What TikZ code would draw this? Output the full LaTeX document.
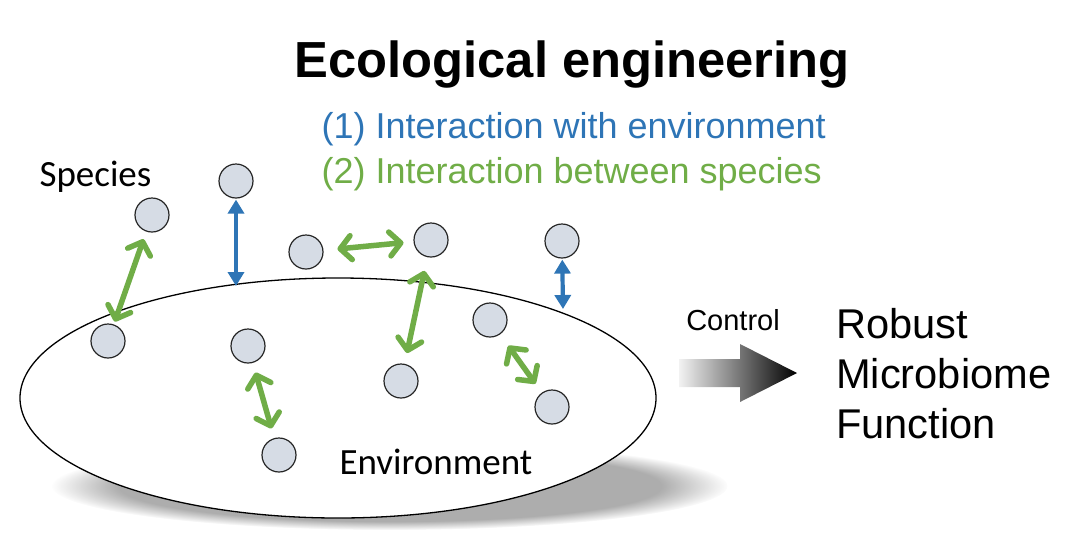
\documentclass[tikz,border=0pt]{standalone}
\usepackage{fontspec}
\setmainfont{Liberation Sans}
\newfontfamily\calfont{Carlito}
\usetikzlibrary{arrows.meta,fadings,shapes.geometric}

\definecolor{envblue}{RGB}{46,117,182}
\definecolor{spgreen}{RGB}{112,173,71}
\definecolor{cellfill}{RGB}{214,220,229}

\tikzset{
    species/.style={circle, draw=black!85, fill=cellfill, line width=1.2pt, minimum size=34pt, inner sep=0pt},
    inter/.style={spgreen, line width=5.5pt, {Straight Barb[round, length=11pt, width=24pt]}-{Straight Barb[round, length=11pt, width=24pt]}},
    envlink/.style={envblue, line width=4.2pt, {Triangle[length=14pt, width=16pt]}-{Triangle[length=14pt, width=16pt]}}
}

\begin{document}
\begin{tikzpicture}[x=1pt, y=-1pt]
        \useasboundingbox (0, 0) rectangle (1082, 542);
        % shadow and environment
        \fill[black!32, path fading=circle with fuzzy edge 20 percent] (390, 486) ellipse (338 and 44);
        \node[ellipse, draw, fill=white, line width=1.3pt, minimum width=636pt, minimum height=240pt] (env) at (338, 398) {};
        \node[font=\calfont\fontsize{37}{44}\selectfont, anchor=base west] (envlabel) at (336, 474) {Environment};
        \coordinate (rim1) at (236, 286);
        \coordinate (rim2) at (563, 309);

        % species
        \node[species] (s1) at (152, 215) {};
        \node[species] (s2) at (236, 181) {};
        \node[species] (s3) at (306, 252) {};
        \node[species] (s4) at (431, 240) {};
        \node[species] (s5) at (562, 241) {};
        \node[species] (s6) at (108, 341) {};
        \node[species] (s7) at (248, 346) {};
        \node[species] (s8) at (490, 320) {};
        \node[species] (s9) at (401, 381) {};
        \node[species] (s10) at (552, 407) {};
        \node[species] (s11) at (279, 455) {};
        \node[font=\calfont\fontsize{37}{44}\selectfont, anchor=base west] (splabel) at (36, 186) {Species};

        % interactions
        \draw[envlink, shorten <=1pt] (s2) -- (rim1);
        \draw[envlink, shorten <=1pt] (s5) -- (rim2);
        \draw[inter, shorten <=8pt, shorten >=3pt] (s1) -- (s6);
        \draw[inter, shorten <=14pt, shorten >=10pt] (s3) -- (s4);
        \draw[inter, shorten <=14pt, shorten >=11pt] (s4) -- (s9);
        \draw[inter, shorten <=14pt, shorten >=11pt] (s8) -- (s10);
        \draw[inter, shorten <=10pt, shorten >=10pt] (s7) -- (s11);

        % titles
        \node[font=\bfseries\fontsize{50.7}{60}\selectfont, anchor=base] (title) at (572, 77) {Ecological engineering};
        \node[font=\fontsize{36}{43}\selectfont, text=envblue, anchor=base west] (key1) at (318, 138) {(1) Interaction with environment};
        \node[font=\fontsize{36}{43}\selectfont, text=spgreen, anchor=base west] (key2) at (318, 183) {(2) Interaction between species};

        % control arrow and outcome
        \shade[left color=black!5, right color=black] (679, 359) -- (740, 359) -- (740, 344) -- (797, 373) -- (740, 402) -- (740, 387) -- (679, 387) -- cycle;
        \node[font=\fontsize{29}{35}\selectfont, anchor=base] (ctrl) at (733, 330) {Control};
        \node[font=\fontsize{41.6}{50}\selectfont, align=left, anchor=base west, inner sep=0pt] (outcome) at (836, 438) {Robust\\Microbiome\\Function};
    \end{tikzpicture}
\end{document}
